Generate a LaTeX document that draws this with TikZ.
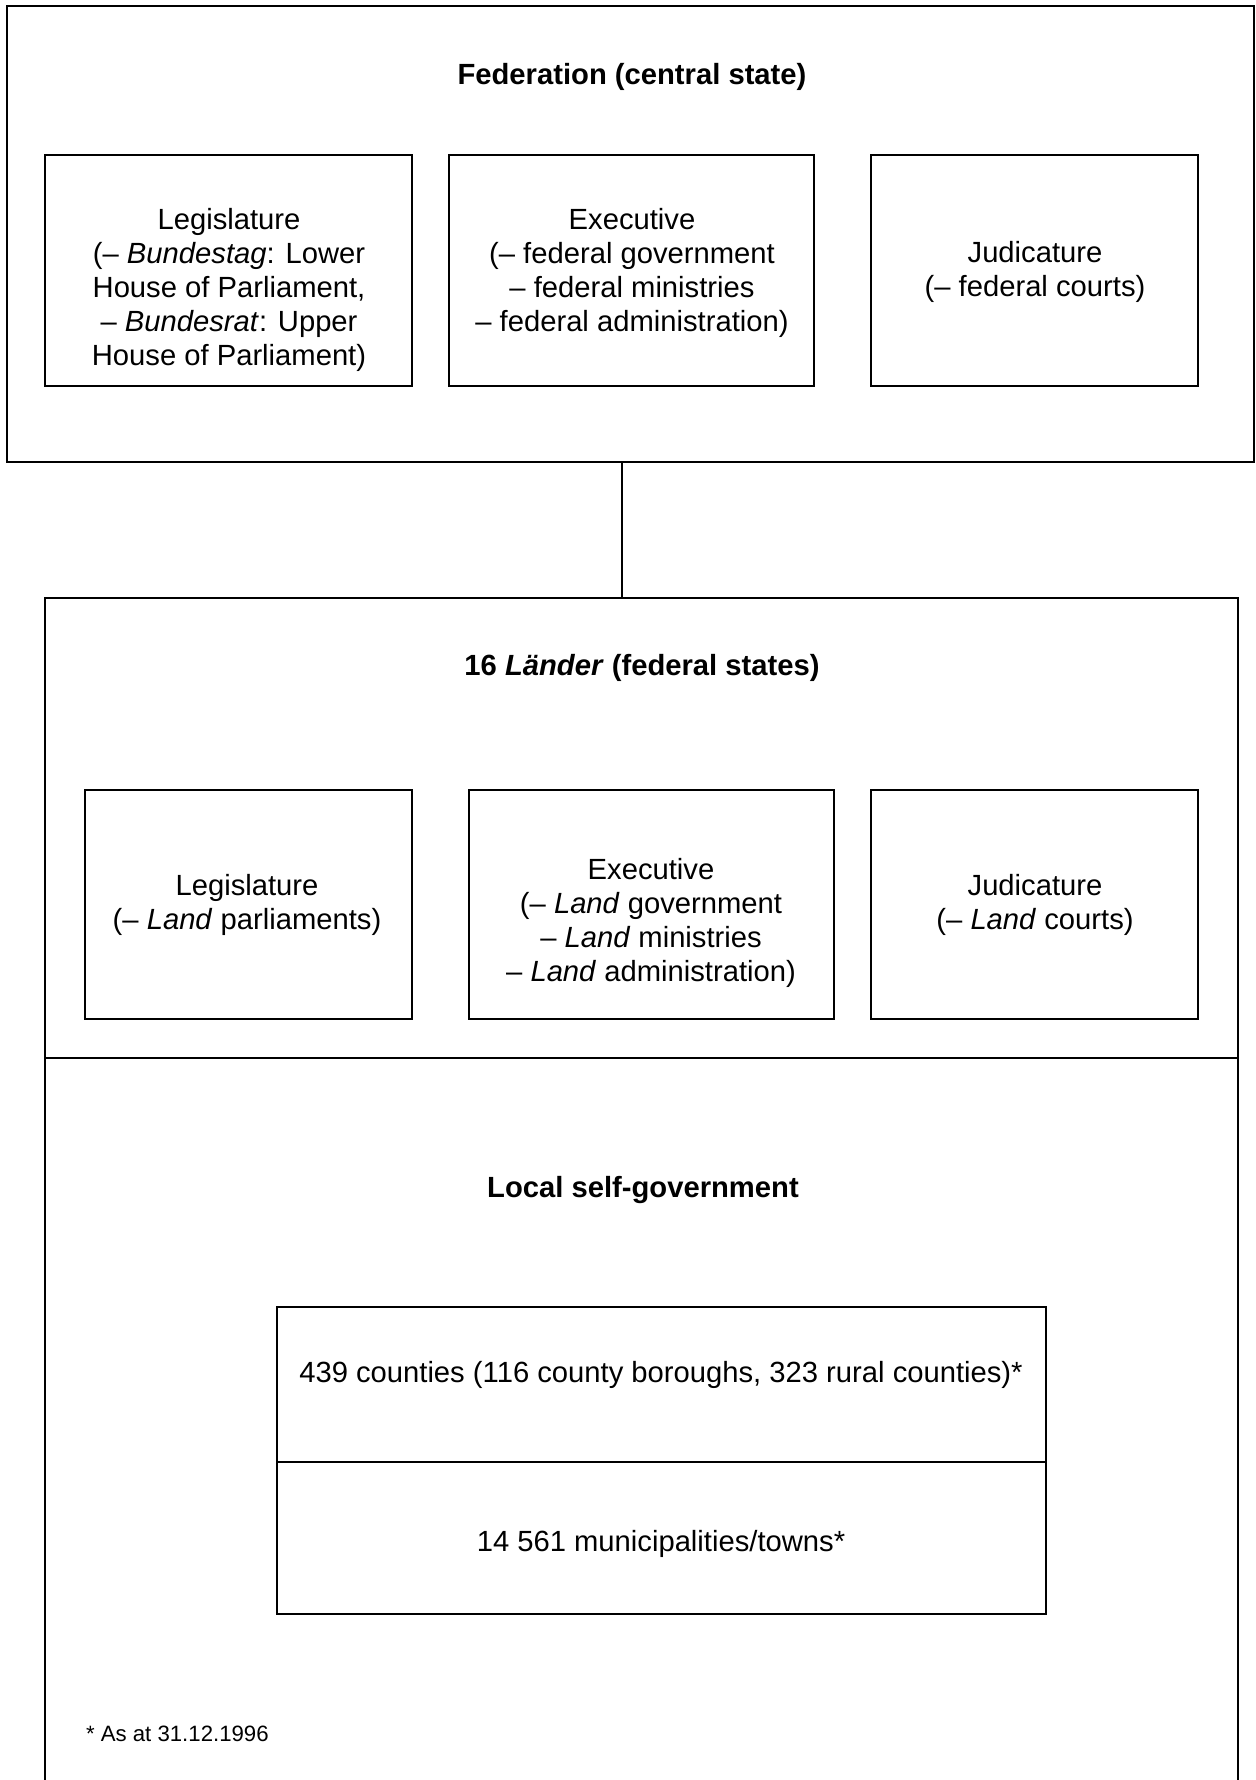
\documentclass[tikz,border=0pt]{standalone}
\usepackage{fontspec}
\setmainfont{Liberation Sans}
\usetikzlibrary{fit}
\begin{document}
\begin{tikzpicture}[x=0.5pt,y=-0.5pt, line width=1pt,
  box/.style={draw, rectangle, inner sep=0pt, outer sep=0pt},
  txt/.style={align=center, font=\fontsize{14.6}{17}\selectfont, inner sep=0pt},
  ttl/.style={font=\fontsize{14.6}{17}\selectfont\bfseries, inner sep=0pt},
  note/.style={anchor=west, font=\fontsize{11.1}{13}\selectfont, inner sep=0pt}]
\useasboundingbox (0,0) rectangle (1255,1780);
% Federation
\node[box, fit={(7,6)(1254,462)}] (fed) {};
\node[ttl] (fedt) at (632,77) {Federation (central state)};
\node[box, fit={(45,155)(412,386)}] (fleg) {};
\node[txt] (flegt) at (229,290) {Legislature\\(– \textit{Bundestag}: Lower\\House of Parliament,\\– \textit{Bundesrat}: Upper\\House of Parliament)};
\node[box, fit={(449,155)(814,386)}] (fexe) {};
\node[txt] (fexet) at (632,273) {Executive\\(– federal government\\– federal ministries\\– federal administration)};
\node[box, fit={(871,155)(1198,386)}] (fjud) {};
\node[txt] (fjudt) at (1035,272) {Judicature\\(– federal courts)};
% Laender
\node[box, fit={(45,598)(1238,1058)}] (laender) {};
\node[ttl] (laendert) at (642,668) {16 \textit{Länder} (federal states)};
\node[box, fit={(85,790)(412,1019)}] (lleg) {};
\node[txt] (llegt) at (247,905) {Legislature\\(– \textit{Land} parliaments)};
\node[box, fit={(469,790)(834,1019)}] (lexe) {};
\node[txt] (lexet) at (651,923) {Executive\\(– \textit{Land} government\\– \textit{Land} ministries\\– \textit{Land} administration)};
\node[box, fit={(871,790)(1198,1019)}] (ljud) {};
\node[txt] (ljudt) at (1035,905) {Judicature\\(– \textit{Land} courts)};
% connector
\coordinate (cx) at (622,0);
\draw (fed.south -| cx) -- (laender.north -| cx);
% Local self-government
\node[inner sep=0pt, outer sep=0pt, fit={(45,1058)(1238,1780)}] (local) {};
\draw (local.south west) -- (local.north west) -- (local.north east) -- (local.south east);
\node[ttl] (localt) at (643,1190) {Local self-government};
\node[box, fit={(277,1307)(1046,1462)}] (counties) {};
\node[txt] (countiest) at (661,1375) {439 counties (116 county boroughs, 323 rural counties)*};
\node[box, fit={(277,1462)(1046,1614)}] (munic) {};
\node[txt] (municy) at (661,1544) {14 561 municipalities/towns*};
\node[note] (foot) at (85,1734) {* As at 31.12.1996};
\end{tikzpicture}
\end{document}
